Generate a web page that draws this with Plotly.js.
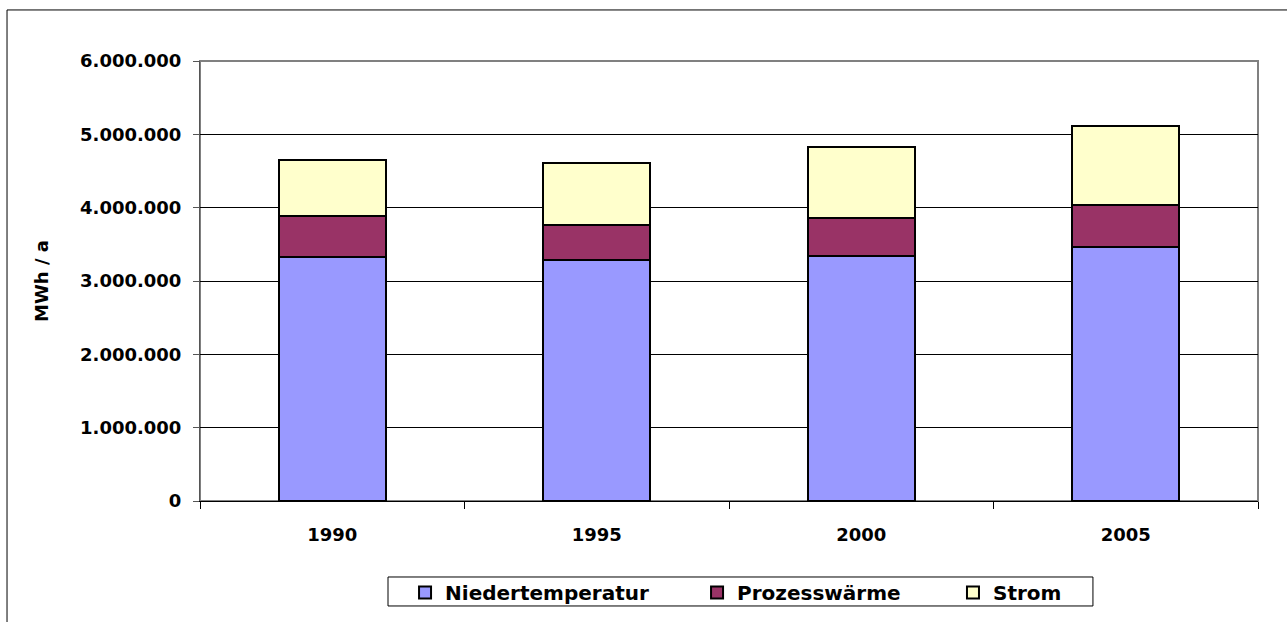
<!DOCTYPE html>
<html>
<head>
<meta charset="utf-8">
<script src="https://cdn.plot.ly/plotly-3.0.1.min.js"></script>
<style>html,body{margin:0;padding:0;background:#fff;}#chart{width:1287px;height:622px;}</style>
</head>
<body>
<div id="chart"></div>
<script>
const years = ["1990", "1995", "2000", "2005"];
const niedertemperatur = [3330000, 3290000, 3340000, 3465000];
const prozesswaerme = [557000, 480000, 520000, 565000];
const strom = [759000, 840000, 970000, 1090000];
const seriesNames = ["Niedertemperatur", "Prozesswärme", "Strom"];
const seriesColors = ["#9999FF", "#993366", "#FFFFCC"];
const yTicks = [0, 1000000, 2000000, 3000000, 4000000, 5000000, 6000000];

const fam = "DejaVu Sans, Arial, sans-serif";
const seriesValues = [niedertemperatur, prozesswaerme, strom];
const legendIds = ["legend", "legend2", "legend3"];
const legendX = [0.1938, 0.4698, 0.7117];

const traces = seriesValues.map((vals, i) => ({
  type: "bar",
  x: years,
  y: vals,
  name: seriesNames[i],
  legend: legendIds[i],
  marker: {color: seriesColors[i], line: {color: "#000", width: 2}},
  hoverinfo: "y+name"
}));

const legendFont = {family: fam, size: 20, color: "#000", weight: "bold"};
function mkLegend(i) {
  return {orientation: "h", x: legendX[i], xanchor: "left", y: -0.1636, yanchor: "top",
          borderwidth: 0, bgcolor: "rgba(0,0,0,0)", font: legendFont};
}

const layout = {
  width: 1287, height: 622,
  margin: {l: 200, r: 29, t: 61, b: 121, autoexpand: false},
  paper_bgcolor: "#fff", plot_bgcolor: "#fff",
  separators: ",.",
  barmode: "stack",
  bargap: 0.595,
  font: {family: fam, size: 18, color: "#000"},
  showlegend: true,
  legend: mkLegend(0),
  legend2: mkLegend(1),
  legend3: mkLegend(2),
  xaxis: {
    type: "category", showgrid: false, showline: true, linecolor: "#000", linewidth: 1,
    ticks: "outside", ticklen: 7, tickcolor: "#000", tickson: "boundaries",
    ticklabelstandoff: 17, automargin: false,
    tickfont: {family: fam, size: 18, color: "#000", weight: "bold"},
    fixedrange: true
  },
  yaxis: {
    range: [0, 6000000], tickvals: yTicks, tickformat: ",d",
    showgrid: true, gridcolor: "#000", gridwidth: 1, zeroline: false,
    showline: true, linecolor: "#555", linewidth: 1,
    ticks: "outside", ticklen: 6, tickcolor: "#555", ticklabelstandoff: 8,
    tickfont: {family: fam, size: 18, color: "#000", weight: "bold"},
    title: {text: "MWh / a", standoff: 26, font: {family: fam, size: 18, color: "#000", weight: "bold"}},
    automargin: false, fixedrange: true
  },
  shapes: [
    {type: "rect", xref: "paper", yref: "paper", x0: 0, x1: 1, y0: 0, y1: 1,
     line: {color: "#808080", width: 2}, fillcolor: "rgba(0,0,0,0)", layer: "below"},
    {type: "rect", xref: "paper", yref: "paper", x0: -0.1824, x1: 1.03, y0: -0.293, y1: 1.116,
     line: {color: "#000", width: 1}, fillcolor: "rgba(0,0,0,0)"},
    {type: "rect", xref: "paper", yref: "paper", x0: 0.1777, x1: 0.844, y0: -0.2386, y1: -0.1727,
     line: {color: "#000", width: 1}, fillcolor: "rgba(0,0,0,0)"}
  ]
};

Plotly.newPlot("chart", traces, layout, {displayModeBar: false, staticPlot: true});
</script>
</body>
</html>
